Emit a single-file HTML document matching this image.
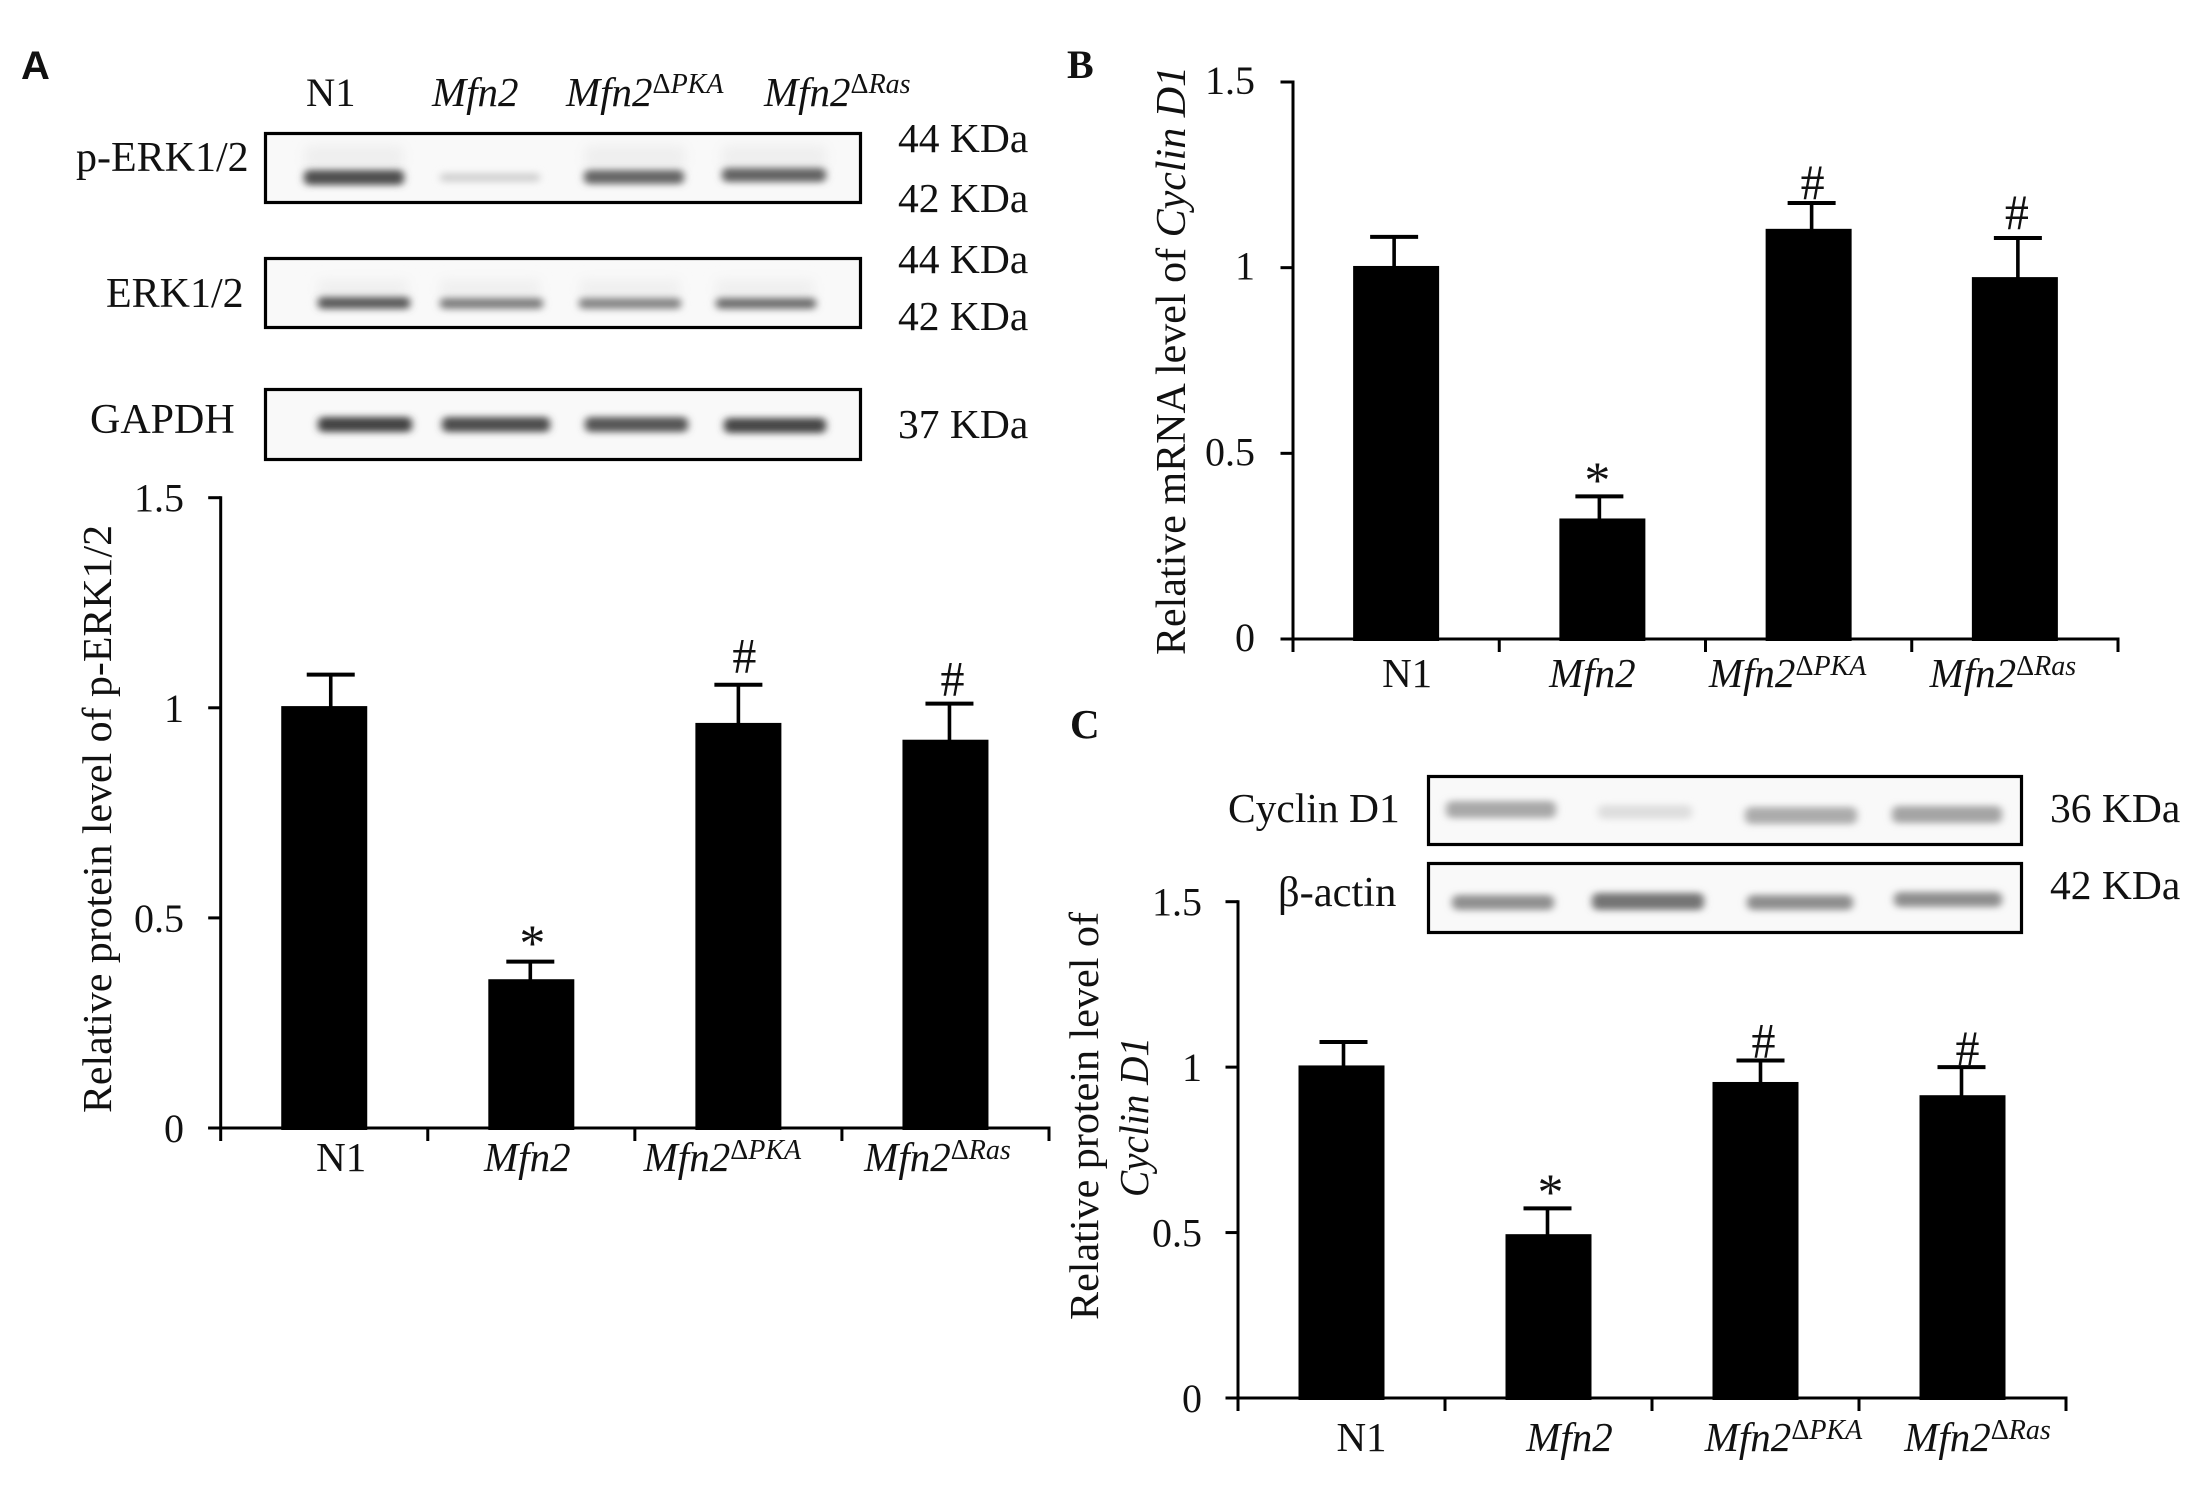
<!DOCTYPE html>
<html lang="en">
<head>
<meta charset="utf-8">
<title>Mfn2 ERK and Cyclin D1 figure</title>
<style>
html,body{margin:0;padding:0;background:#fff;width:2211px;height:1488px;overflow:hidden}
svg{display:block}
text{font-family:"Liberation Serif",serif;fill:#111}
.blot-frame{fill:none;stroke:#000;stroke-width:3.2}
.blot-bg{fill:#f9f9f9}
</style>
</head>
<body>
<svg id="figure" xmlns="http://www.w3.org/2000/svg" width="2211" height="1488" viewBox="0 0 2211 1488">
  <defs>
    <filter id="blur" x="-20%" y="-150%" width="140%" height="400%"><feGaussianBlur stdDeviation="4 3.4"/></filter>
    <filter id="blur2" x="-20%" y="-100%" width="140%" height="300%"><feGaussianBlur stdDeviation="6"/></filter>
  </defs>
  <rect width="2211" height="1488" fill="#fff"/>

  <g>
    <rect class="blot-bg" x="265" y="133" width="596" height="70"/>
    <g filter="url(#blur2)" fill="#eee">
      <rect x="305" y="146" width="98" height="22"/><rect x="585" y="146" width="100" height="22"/><rect x="722" y="146" width="104" height="22"/>
    </g>
    <g filter="url(#blur)">
      <rect x="304" y="170" width="100" height="15" rx="5" fill="#505050"/>
      <rect x="440" y="173" width="100" height="9" rx="4" fill="#d2d2d2"/>
      <rect x="584" y="170" width="100" height="14" rx="5" fill="#666"/>
      <rect x="722" y="168" width="104" height="14" rx="5" fill="#646464"/>
    </g>
    <rect class="blot-frame" x="265.5" y="133.5" width="595" height="69"/>
  </g>

  <g>
    <rect class="blot-bg" x="265" y="258" width="596" height="70"/>
    <g filter="url(#blur2)" fill="#efefef">
      <rect x="318" y="280" width="90" height="18"/><rect x="440" y="280" width="100" height="18"/><rect x="580" y="280" width="100" height="18"/><rect x="716" y="280" width="98" height="18"/>
    </g>
    <g filter="url(#blur)">
      <rect x="318" y="297" width="92" height="12" rx="4" fill="#5c5c5c"/>
      <rect x="440" y="298" width="103" height="11" rx="4" fill="#808080"/>
      <rect x="579" y="298" width="102" height="11" rx="4" fill="#868686"/>
      <rect x="716" y="298" width="100" height="11" rx="4" fill="#707070"/>
    </g>
    <rect class="blot-frame" x="265.5" y="258.5" width="595" height="69"/>
  </g>

  <g>
    <rect class="blot-bg" x="265" y="389" width="596" height="71"/>
    <g filter="url(#blur)">
      <rect x="318" y="417" width="94" height="15" rx="5" fill="#424242"/>
      <rect x="442" y="417" width="108" height="15" rx="5" fill="#4e4e4e"/>
      <rect x="585" y="417" width="103" height="15" rx="5" fill="#565656"/>
      <rect x="724" y="418" width="102" height="15" rx="5" fill="#464646"/>
    </g>
    <rect class="blot-frame" x="265.5" y="389.5" width="595" height="70"/>
  </g>

  <g>
    <rect class="blot-bg" x="1428" y="776" width="594" height="69"/>
    <g filter="url(#blur)">
      <rect x="1446" y="801" width="110" height="17" rx="6" fill="#a8a8a8"/>
      <rect x="1598" y="805" width="94" height="14" rx="5" fill="#dedede"/>
      <rect x="1745" y="807" width="112" height="17" rx="6" fill="#acacac"/>
      <rect x="1892" y="806" width="110" height="17" rx="6" fill="#a4a4a4"/>
    </g>
    <rect class="blot-frame" x="1428.5" y="776.5" width="593" height="68"/>
  </g>

  <g>
    <rect class="blot-bg" x="1428" y="863" width="594" height="70"/>
    <g filter="url(#blur)">
      <rect x="1452" y="895" width="102" height="15" rx="6" fill="#909090"/>
      <rect x="1592" y="893" width="112" height="17" rx="6" fill="#747474"/>
      <rect x="1747" y="895" width="106" height="15" rx="6" fill="#8e8e8e"/>
      <rect x="1894" y="892" width="108" height="15" rx="6" fill="#8e8e8e"/>
    </g>
    <rect class="blot-frame" x="1428.5" y="863.5" width="593" height="69"/>
  </g>

  <text x="21" y="79" font-size="40" font-weight="700" style="font-family:'Liberation Sans',sans-serif" fill="#000">A</text>
  <text x="1067" y="78" font-size="40" font-weight="700">B</text>
  <text x="1070" y="738" font-size="41" font-weight="700">C</text>

  <g font-size="41.5">
    <text x="306" y="106" font-size="40.5">N1</text>
    <text x="432" y="106" font-size="41" font-style="italic">Mfn2</text>
    <text x="566" y="106"><tspan font-style="italic" font-size="41">Mfn2</tspan><tspan font-size="28" dy="-13">Δ</tspan><tspan font-size="28" font-style="italic">PKA</tspan></text>
    <text x="764" y="106"><tspan font-style="italic" font-size="41">Mfn2</tspan><tspan font-size="28" dy="-13">Δ</tspan><tspan font-size="28" font-style="italic">Ras</tspan></text>
    <text x="76" y="171" font-size="42">p-ERK1/2</text>
    <text x="106" y="307" font-size="42">ERK1/2</text>
    <text x="90" y="433" font-size="42">GAPDH</text>
    <text x="898" y="152">44 KDa</text>
    <text x="898" y="212">42 KDa</text>
    <text x="898" y="273">44 KDa</text>
    <text x="898" y="330">42 KDa</text>
    <text x="898" y="438">37 KDa</text>
  </g>

  <g font-size="41.5">
    <text x="1228" y="822" font-size="41.5">Cyclin D1</text>
    <text x="1278" y="906" font-size="42.5">β-actin</text>
    <text x="2050" y="822">36 KDa</text>
    <text x="2050" y="899">42 KDa</text>
  </g>

  <text transform="translate(111 1113) rotate(-90)" font-size="41" textLength="588" lengthAdjust="spacingAndGlyphs">Relative protein level of p-ERK1/2</text>
  <text transform="translate(1185 655) rotate(-90)" font-size="42">Relative mRNA level of <tspan font-style="italic">Cyclin D1</tspan></text>
  <text transform="translate(1098 1320) rotate(-90)" font-size="41" textLength="408" lengthAdjust="spacingAndGlyphs">Relative protein level of</text>
  <text transform="translate(1148 1197) rotate(-90)" font-size="41" font-style="italic" textLength="160" lengthAdjust="spacingAndGlyphs">Cyclin D1</text>

  <g id="charts"></g>
</svg>
<script>
// ---- Chart data ----
const categories = ["N1", "Mfn2", "Mfn2ΔPKA", "Mfn2ΔRas"];
const yTicks = [0, 0.5, 1, 1.5];
const yTickLabels = ["0", "0.5", "1", "1.5"];
const marks = ["", "*", "#", "#"];

const valuesA = [1.0, 0.35, 0.96, 0.92];
const errorTopsA = [1.079, 0.396, 1.055, 1.01];

const valuesB = [1.0, 0.32, 1.10, 0.97];
const errorTopsB = [1.083, 0.384, 1.174, 1.08];

const valuesC = [1.0, 0.49, 0.95, 0.91];
const errorTopsC = [1.076, 0.573, 1.02, 1.0];

// ---- Panel layout (geometry only) ----
const layoutA = { id: 'a', x0: 220.7, x1: 1049, y0: 1128, yMax: 497.7, barW: 86, labelBase: 1171, tickRight: 184, tickBase: 14,
  errDx: [6.5, -1, 0, 4], labelDx: [17, -4, -16, -8], markDx: [0, 2, 6, 3], markGap: [0, -2, 12, 8] };
const layoutB = { id: 'b', x0: 1293, x1: 2118, y0: 639, yMax: 82, barW: 86, labelBase: 687, tickRight: 1255, tickBase: 12,
  errDx: [-2, -3, 3, 3], labelDx: [11, -10, -21, -12], markDx: [0, -2, 1, -1], markGap: [0, 0, 4, 9] };
const layoutC = { id: 'c', x0: 1238, x1: 2066, y0: 1398, yMax: 901.7, barW: 86, labelBase: 1451, tickRight: 1202, tickBase: 14,
  errDx: [2, -1, 5, -1], labelDx: [20, 21, 28, 15], markDx: [0, 3, 3, 6], markGap: [0, 0, 3, 2] };

const SVGNS = 'http://www.w3.org/2000/svg';
const root = document.getElementById('charts');

function shape(parent, tag, attrs) {
  const el = document.createElementNS(SVGNS, tag);
  for (const k in attrs) el.setAttribute(k, attrs[k]);
  parent.appendChild(el);
  return el;
}

function categoryLabel(parent, name, cx, y, size) {
  const t = shape(parent, 'text', { x: cx, y: y, 'text-anchor': 'middle', 'font-size': size });
  
  
  return t;
}

function drawPanel(L, values, errorTops) {
  const g = shape(root, 'g', {});
  
  

  const band = (L.x1 - L.x0) / categories.length;
  const xCenter = i => L.x0 + band * (i + 0.5);
  const yScale = v => L.y0 + (L.yMax - L.y0) * (v / 1.5);
  const barLift = 1.7;

  // bars
  values.forEach((v, i) => {
    const top = yScale(v) - barLift;
    const bar = shape(g, 'rect', { x: xCenter(i) - L.barW / 2, y: top, width: L.barW, height: L.y0 + 2 - top, fill: '#000' });
    
    
  });

  // error bars
  errorTops.forEach((e, i) => {
    const ex = xCenter(i) + L.errDx[i];
    const stem = shape(g, 'line', { x1: ex, x2: ex, y1: yScale(values[i]), y2: yScale(e), stroke: '#000', 'stroke-width': 3.6 });
    
    
    const cap = shape(g, 'line', { x1: ex - 24, x2: ex + 24, y1: yScale(e), y2: yScale(e), stroke: '#000', 'stroke-width': 4 });
    
    
  });

  // significance marks
  marks.forEach((m, i) => {
    if (!m) return;
    const top = yScale(errorTops[i]);
    const mx = xCenter(i) + L.errDx[i] + L.markDx[i];
    const t = m === '*'
      ? shape(g, 'text', { x: mx, y: top + 1 + L.markGap[i], 'text-anchor': 'middle', 'font-size': 52 })
      : shape(g, 'text', { x: mx, y: top - L.markGap[i], 'text-anchor': 'middle', 'font-size': 50, textLength: 24, lengthAdjust: 'spacingAndGlyphs' });
    t.textContent = m;
    
    
  });

  // axes
  const yAxis = shape(g, 'line', { x1: L.x0, x2: L.x0, y1: yScale(1.5) - 1.5, y2: L.y0 + 13, stroke: '#000', 'stroke-width': 3 });
  
  
  const xAxis = shape(g, 'line', { x1: L.x0 - 12.5, x2: L.x1 + 1.5, y1: L.y0, y2: L.y0, stroke: '#000', 'stroke-width': 3 });
  
  

  // y ticks and labels
  yTicks.forEach((v, i) => {
    const tk = shape(g, 'line', { x1: L.x0 - 12.5, x2: L.x0, y1: yScale(v), y2: yScale(v), stroke: '#000', 'stroke-width': 3 });
    
    
    const lb = shape(g, 'text', { x: L.tickRight, y: yScale(v) + L.tickBase, 'text-anchor': 'end', 'font-size': 40 });
    lb.textContent = yTickLabels[i];
    
    
  });

  // x ticks
  for (let i = 1; i <= categories.length; i++) {
    const tx = L.x0 + band * i;
    const tk = shape(g, 'line', { x1: tx, x2: tx, y1: L.y0, y2: L.y0 + 13, stroke: '#000', 'stroke-width': 3 });
    
    
  }

  // category labels
  categories.forEach((c, i) => {
    const t = categoryLabel(g, 'x-label-' + L.id + '-' + (i + 1), xCenter(i) + L.labelDx[i], L.labelBase, 41);
    const delta = c.indexOf('Δ');
    if (delta < 0) {
      t.textContent = c;
      if (c !== 'N1') t.setAttribute('font-style', 'italic');
    } else {
      const base = shape(t, 'tspan', { 'font-style': 'italic' });
      base.textContent = c.slice(0, delta);
      const d = shape(t, 'tspan', { 'font-size': 28, dy: -12 });
      d.textContent = 'Δ';
      const sup = shape(t, 'tspan', { 'font-size': 28, 'font-style': 'italic' });
      sup.textContent = c.slice(delta + 1);
    }
  });
}

drawPanel(layoutA, valuesA, errorTopsA);
drawPanel(layoutB, valuesB, errorTopsB);
drawPanel(layoutC, valuesC, errorTopsC);
</script>
</body>
</html>
